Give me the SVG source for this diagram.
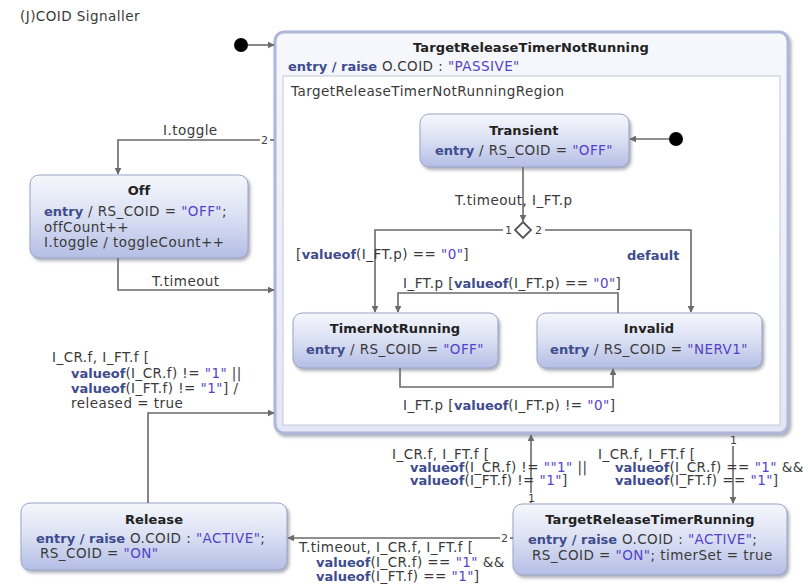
<svg xmlns="http://www.w3.org/2000/svg" width="808" height="585" viewBox="0 0 808 585">
  <style>
    text { font-family: "DejaVu Sans", Verdana, sans-serif; font-size: 13.5px; letter-spacing: 0.45px; fill: #3a3a3a; }
    .title { font-weight: bold; fill: #222; text-anchor: middle; font-size: 13px; letter-spacing: 0.1px; }
    .kw { font-weight: bold; fill: #3e4c8e; font-size: 13px; letter-spacing: 0; }
    .str { fill: #5442c8; }
    .num { font-size: 11px; letter-spacing: 0; fill: #444; }
    .node { fill: url(#nodeFill); stroke: #9aa3c6; stroke-width: 1; filter: url(#shadow); }
    .edge { fill: none; stroke: #6a6a6a; stroke-width: 1.6; }
    .arrow { marker-end: url(#head); }
  </style>
  <defs>
    <linearGradient id="nodeFill" x1="0" y1="0" x2="0" y2="1">
      <stop offset="0" stop-color="#f6f7fc"/>
      <stop offset="0.45" stop-color="#dde2f4"/>
      <stop offset="1" stop-color="#b4bee5"/>
    </linearGradient>
    <linearGradient id="headerFill" x1="0" y1="0" x2="0" y2="1">
      <stop offset="0" stop-color="#f7f8fc"/>
      <stop offset="1" stop-color="#e3e7f5"/>
    </linearGradient>
    <filter id="shadow" x="-10%" y="-10%" width="125%" height="135%">
      <feDropShadow dx="2" dy="2.5" stdDeviation="1.8" flood-color="#6d7080" flood-opacity="0.55"/>
    </filter>
    <marker id="head" viewBox="0 0 10 10" refX="9" refY="5" markerWidth="7" markerHeight="7" markerUnits="userSpaceOnUse" orient="auto">
      <path d="M0,0 L10,5 L0,10 z" fill="#6a6a6a"/>
    </marker>
  </defs>

  <text x="20" y="21">(J)COID Signaller</text>

  <!-- composite state with its inner region -->
  <g id="TargetReleaseTimerNotRunning">
    <rect x="275" y="32" width="513" height="401" rx="9" fill="url(#headerFill)" stroke="#aeb6da" stroke-width="3" filter="url(#shadow)"/>
    <rect x="283" y="76" width="497" height="349" fill="#ffffff" stroke="#c4c8d6" stroke-width="1"/>
    <text class="title" x="531" y="52">TargetReleaseTimerNotRunning</text>
    <text x="288" y="71"><tspan class="kw">entry / raise</tspan> O.COID : <tspan class="str">"PASSIVE"</tspan></text>
    <text x="291" y="96">TargetReleaseTimerNotRunningRegion</text>
  </g>

  <g id="init-top">
    <circle cx="241" cy="45" r="7" fill="#000"/>
  </g>

  <g id="init-region">
    <circle cx="676" cy="139" r="7" fill="#000"/>
  </g>

  <g id="Transient">
    <rect class="node" x="420" y="114" width="209" height="53" rx="9"/>
    <text class="title" x="524" y="135">Transient</text>
    <text x="524" y="155" text-anchor="middle"><tspan class="kw">entry</tspan> / RS_COID = <tspan class="str">"OFF"</tspan></text>
  </g>

  <g id="choice">
    <path d="M523,222 L531,230 L523,238 L515,230 z" fill="#fff" stroke="#555" stroke-width="1.8"/>
  </g>

  <g id="TimerNotRunning">
    <rect class="node" x="293" y="313" width="205" height="55" rx="9"/>
    <text class="title" x="395" y="333">TimerNotRunning</text>
    <text x="395" y="354" text-anchor="middle"><tspan class="kw">entry</tspan> / RS_COID = <tspan class="str">"OFF"</tspan></text>
  </g>

  <g id="Invalid">
    <rect class="node" x="537" y="313" width="225" height="55" rx="9"/>
    <text class="title" x="649" y="333">Invalid</text>
    <text x="649" y="354" text-anchor="middle"><tspan class="kw">entry</tspan> / RS_COID = <tspan class="str">"NERV1"</tspan></text>
  </g>

  <g id="Off">
    <rect class="node" x="30" y="175" width="218" height="83" rx="9"/>
    <text class="title" x="139" y="195">Off</text>
    <text x="44" y="216"><tspan class="kw">entry</tspan> / RS_COID = <tspan class="str">"OFF"</tspan>;</text>
    <text x="44" y="232">offCount++</text>
    <text x="44" y="247">I.toggle / toggleCount++</text>
  </g>

  <g id="Release">
    <rect class="node" x="21" y="503" width="266" height="67" rx="9"/>
    <text class="title" x="154" y="524">Release</text>
    <text x="36" y="543"><tspan class="kw">entry / raise</tspan> O.COID : <tspan class="str">"ACTIVE"</tspan>;</text>
    <text x="40" y="558">RS_COID = <tspan class="str">"ON"</tspan></text>
  </g>

  <g id="TargetReleaseTimerRunning">
    <rect class="node" x="513" y="504" width="274" height="71" rx="9"/>
    <text class="title" x="650" y="524">TargetReleaseTimerRunning</text>
    <text x="528" y="544"><tspan class="kw">entry / raise</tspan> O.COID : <tspan class="str">"ACTIVE"</tspan>;</text>
    <text x="532" y="560">RS_COID = <tspan class="str">"ON"</tspan>; timerSet = true</text>
  </g>

  <g id="connectors">
    <!-- initial pseudostates -->
    <path class="edge arrow" d="M248,45 H274"/>
    <path class="edge arrow" d="M669,139 H630"/>

    <!-- Transient to choice -->
    <path class="edge arrow" d="M523,167 V221"/>
    <text x="455" y="205">T.timeout, I_FT.p</text>

    <!-- choice branches -->
    <path class="edge arrow" d="M503,230 H375 V312"/>
    <text class="num" x="505" y="234">1</text>
    <text x="296" y="259">[<tspan class="kw">valueof</tspan>(I_FT.p) == <tspan class="str">"0"</tspan>]</text>
    <path class="edge arrow" d="M545,230 H691 V312"/>
    <text class="num" x="535" y="234">2</text>
    <text class="kw" x="627" y="260">default</text>

    <!-- Invalid back to TimerNotRunning -->
    <path class="edge arrow" d="M618,313 V293 H398 V312"/>
    <text x="403" y="288">I_FT.p [<tspan class="kw">valueof</tspan>(I_FT.p) == <tspan class="str">"0"</tspan>]</text>

    <!-- TimerNotRunning to Invalid -->
    <path class="edge arrow" d="M400,368 V387 H613 V369"/>
    <text x="403" y="410">I_FT.p [<tspan class="kw">valueof</tspan>(I_FT.p) != <tspan class="str">"0"</tspan>]</text>

    <!-- composite to Off -->
    <path class="edge" d="M274,140 H270"/>
    <path class="edge arrow" d="M260,140 H118 V174"/>
    <text class="num" x="261" y="144">2</text>
    <text x="163" y="135">I.toggle</text>

    <!-- Off to composite -->
    <path class="edge arrow" d="M118,258 V290 H274"/>
    <text x="152" y="286">T.timeout</text>

    <!-- Release to composite -->
    <path class="edge arrow" d="M148,503 V413 H274"/>
    <text x="52" y="362">I_CR.f, I_FT.f [</text>
    <text x="71" y="378"><tspan class="kw">valueof</tspan>(I_CR.f) != <tspan class="str">"1"</tspan> ||</text>
    <text x="71" y="393"><tspan class="kw">valueof</tspan>(I_FT.f) != <tspan class="str">"1"</tspan>] /</text>
    <text x="71" y="408">released = true</text>

    <!-- TargetReleaseTimerRunning to composite -->
    <path class="edge arrow" d="M531,493 V435"/>
    <path class="edge" d="M531,503 V502"/>
    <text class="num" x="528" y="502">1</text>
    <text x="392" y="459">I_CR.f, I_FT.f [</text>
    <text x="410" y="472"><tspan class="kw">valueof</tspan>(I_CR.f) != <tspan class="str">""1"</tspan> ||</text>
    <text x="410" y="485"><tspan class="kw">valueof</tspan>(I_FT.f) != <tspan class="str">"1"</tspan>]</text>

    <!-- composite to TargetReleaseTimerRunning -->
    <path class="edge arrow" d="M733,446 V503"/>
    <text class="num" x="730" y="444">1</text>
    <text x="598" y="459">I_CR.f, I_FT.f [</text>
    <text x="615" y="472"><tspan class="kw">valueof</tspan>(I_CR.f) == <tspan class="str">"1"</tspan> &amp;&amp;</text>
    <text x="615" y="485"><tspan class="kw">valueof</tspan>(I_FT.f) == <tspan class="str">"1"</tspan>]</text>

    <!-- TargetReleaseTimerRunning to Release -->
    <path class="edge" d="M513,538 H510"/>
    <path class="edge arrow" d="M500,538 H288"/>
    <text class="num" x="501" y="542">2</text>
    <text x="299" y="552">T.timeout, I_CR.f, I_FT.f [</text>
    <text x="316" y="567"><tspan class="kw">valueof</tspan>(I_CR.f) == <tspan class="str">"1"</tspan> &amp;&amp;</text>
    <text x="316" y="581"><tspan class="kw">valueof</tspan>(I_FT.f) == <tspan class="str">"1"</tspan>]</text>
  </g>
</svg>
